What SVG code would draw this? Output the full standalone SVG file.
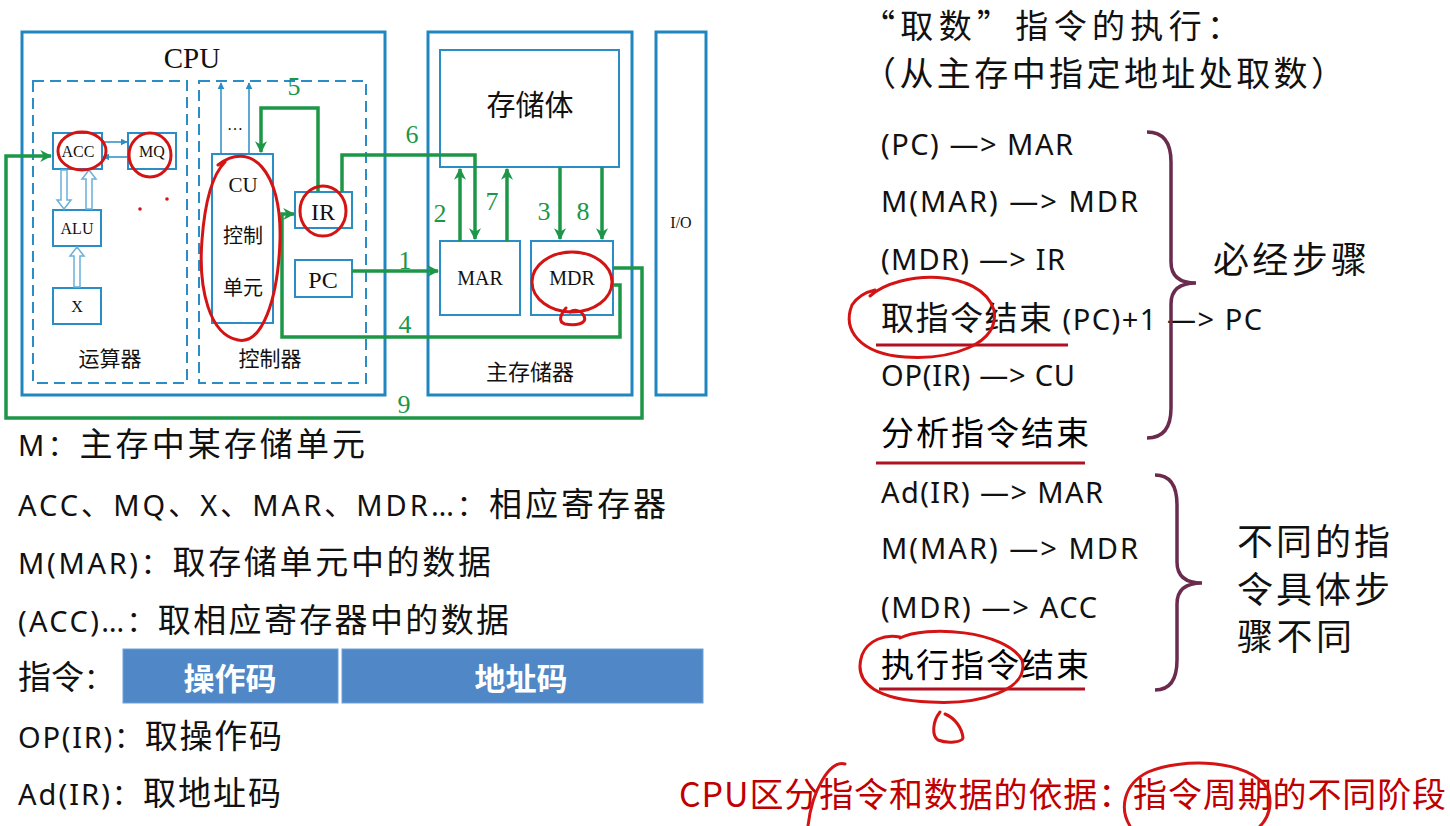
<svg xmlns="http://www.w3.org/2000/svg" width="1450" height="826" viewBox="0 0 1450 826">
<style>
.outer{fill:none;stroke:#1f86c0;stroke-width:3}
.dash{fill:none;stroke:#2a8dc5;stroke-width:2;stroke-dasharray:11 6}
.box{fill:#fff;stroke:#2a8dc5;stroke-width:2}
.thin{fill:none;stroke:#2a8dc5;stroke-width:1.5}
.hollow{fill:#fff;stroke:#6ab0dc;stroke-width:1.5}
.serif{font-family:"Liberation Serif","Noto Sans CJK SC",serif;fill:#111}
.cjk{font-family:"Noto Sans CJK SC",sans-serif;fill:#111}
.g{fill:none;stroke:#1c9647;stroke-width:3.5}
.num{font-family:"Liberation Serif",serif;fill:#1c9647;font-size:26px}
.list{font-family:"Noto Sans","Noto Sans CJK SC",sans-serif;font-size:29px;fill:#111}
.left{font-family:"Noto Sans","Noto Sans CJK SC",sans-serif;font-size:29px;fill:#111}
.big{font-family:"Noto Sans CJK SC",sans-serif;font-size:33px}
.red{fill:none;stroke:#d41414;stroke-width:3;stroke-linecap:round}
.brace{fill:none;stroke:#6b2b4e;stroke-width:3.5}
.uline{stroke:#b01020;stroke-width:3}
</style>
<defs>
<marker id="ga" viewBox="0 0 10 10" refX="9" refY="5" markerWidth="12" markerHeight="12" markerUnits="userSpaceOnUse" orient="auto"><path d="M0,0 L10,5 L0,10 L3,5 z" fill="#1c9647"/></marker>
<marker id="ba" viewBox="0 0 10 10" refX="9" refY="5" markerWidth="7" markerHeight="7" markerUnits="userSpaceOnUse" orient="auto"><path d="M0,0 L10,5 L0,10 z" fill="#2a8dc5"/></marker>
</defs>

<g id="cpu">
<rect class="outer" x="22" y="32" width="363" height="363"/>
<text class="serif" x="192" y="68" font-size="29" text-anchor="middle">CPU</text>
</g>
<g id="alu-unit">
<rect class="dash" x="33" y="81" width="154" height="302"/>
<text class="cjk" x="110" y="366" font-size="21" text-anchor="middle">运算器</text>
</g>
<g id="acc"><rect class="box" x="53" y="133" width="49" height="36"/><text class="serif" x="78" y="157" font-size="16" text-anchor="middle">ACC</text></g>
<g id="mq"><rect class="box" x="128" y="133" width="48" height="36"/><text class="serif" x="152" y="157" font-size="16" text-anchor="middle">MQ</text></g>
<g id="alu"><rect class="box" x="53" y="210" width="48" height="36"/><text class="serif" x="77" y="234" font-size="16" text-anchor="middle">ALU</text></g>
<g id="x"><rect class="box" x="53" y="288" width="48" height="36"/><text class="serif" x="77" y="312" font-size="16" text-anchor="middle">X</text></g>
<g id="alu-links">
<line class="thin" x1="102" y1="142" x2="127" y2="142" marker-end="url(#ba)"/>
<line class="thin" x1="128" y1="157" x2="103" y2="157" marker-end="url(#ba)"/>
<path class="hollow" d="M61,170 L61,200 L57,200 L64,209 L71,200 L67,200 L67,170 Z"/>
<path class="hollow" d="M86,209 L86,179 L82,179 L89,170 L96,179 L92,179 L92,209 Z"/>
<path class="hollow" d="M74,287 L74,256 L70,256 L77,247 L84,256 L80,256 L80,287 Z"/>
</g>

<g id="control-unit">
<rect class="dash" x="199" y="81" width="167" height="302"/>
<text class="cjk" x="270" y="366" font-size="21" text-anchor="middle">控制器</text>
</g>
<g id="cu">
<rect class="box" x="212" y="154" width="61" height="169"/>
<text class="serif" x="243" y="192" font-size="21" text-anchor="middle">CU</text>
<text class="cjk" x="243" y="243" font-size="20" text-anchor="middle">控制</text>
<text class="cjk" x="243" y="295" font-size="20" text-anchor="middle">单元</text>
<line class="thin" x1="221" y1="154" x2="221" y2="83" marker-end="url(#ba)"/>
<line class="thin" x1="249" y1="154" x2="249" y2="83" marker-end="url(#ba)"/>
<text class="serif" x="235" y="130" font-size="16" text-anchor="middle">…</text>
</g>
<g id="ir"><rect class="box" x="295" y="192" width="57" height="36"/><text class="serif" x="323" y="220" font-size="24" text-anchor="middle">IR</text></g>
<g id="pc"><rect class="box" x="295" y="260" width="57" height="37"/><text class="serif" x="323" y="288" font-size="24" text-anchor="middle">PC</text></g>

<g id="main-memory">
<rect class="outer" x="428" y="32" width="204" height="363"/>
<text class="cjk" x="530" y="380" font-size="22" text-anchor="middle">主存储器</text>
</g>
<g id="storage"><rect class="box" x="440" y="50" width="179" height="117"/><text class="cjk" x="530" y="116" font-size="29" text-anchor="middle">存储体</text></g>
<g id="mar"><rect class="box" x="440" y="241" width="80" height="74"/><text class="serif" x="480" y="285" font-size="20" text-anchor="middle">MAR</text></g>
<g id="mdr"><rect class="box" x="531" y="241" width="82" height="74"/><text class="serif" x="572" y="285" font-size="20" text-anchor="middle">MDR</text></g>
<g id="io"><rect class="outer" x="656" y="32" width="50" height="363"/><text class="serif" x="681" y="228" font-size="16" text-anchor="middle">I/O</text></g>

<g id="connectors">
<polyline class="g" points="352,271 438,271" marker-end="url(#ga)"/>
<polyline class="g" points="460,241 460,169" marker-end="url(#ga)"/>
<polyline class="g" points="560,167 560,239" marker-end="url(#ga)"/>
<polyline class="g" points="613,285 620,285 620,337 282,337 282,214 294,214" marker-end="url(#ga)"/>
<polyline class="g" points="318,192 318,108 261,108 261,152" marker-end="url(#ga)"/>
<polyline class="g" points="342,192 342,155 475,155 475,239" marker-end="url(#ga)"/>
<polyline class="g" points="507,241 507,169" marker-end="url(#ga)"/>
<polyline class="g" points="602,167 602,239" marker-end="url(#ga)"/>
<polyline class="g" points="613,268 642,268 642,418 6,418 6,156 51,156" marker-end="url(#ga)"/>
<text class="num" x="405" y="269" text-anchor="middle">1</text>
<text class="num" x="440" y="222" text-anchor="middle">2</text>
<text class="num" x="544" y="220" text-anchor="middle">3</text>
<text class="num" x="405" y="333" text-anchor="middle">4</text>
<text class="num" x="294" y="95" text-anchor="middle">5</text>
<text class="num" x="412" y="143" text-anchor="middle">6</text>
<text class="num" x="492" y="210" text-anchor="middle">7</text>
<text class="num" x="583" y="220" text-anchor="middle">8</text>
<text class="num" x="404" y="413" text-anchor="middle">9</text>
</g>

<g id="annotations-left">
<ellipse class="red" cx="82" cy="151" rx="24" ry="19"/>
<ellipse class="red" cx="150" cy="155" rx="21" ry="22"/>
<path class="red" d="M218,165 C250,140 282,170 280,240 C278,300 262,345 238,340 C210,335 198,290 202,240 C205,200 212,175 225,162"/>
<ellipse class="red" cx="323" cy="211" rx="23" ry="25"/>
<ellipse class="red" cx="572" cy="282" rx="40" ry="30"/>
<path class="red" d="M566,308 C560,315 558,322 565,324 C575,326 588,324 584,316 C581,310 574,309 570,312"/>
<circle cx="140" cy="209" r="1.8" fill="#d41414"/>
<circle cx="167" cy="199" r="1.8" fill="#d41414"/>
</g>

<g id="legend">
<text class="left" x="18" y="456" textLength="347">M：<tspan class="big">主存中某存储单元</tspan></text>
<text class="left" x="18" y="516" textLength="648">ACC、MQ、X、MAR、MDR…：<tspan class="big">相应寄存器</tspan></text>
<text class="left" x="18" y="574" textLength="473">M(MAR)：<tspan class="big">取存储单元中的数据</tspan></text>
<text class="left" x="18" y="632" textLength="491">(ACC)…：<tspan class="big">取相应寄存器中的数据</tspan></text>
<text class="left" x="18" y="689"><tspan class="big">指令</tspan>：</text>
<text class="left" x="18" y="748" textLength="264">OP(IR)：<tspan class="big">取操作码</tspan></text>
<text class="left" x="18" y="805" textLength="263">Ad(IR)：<tspan class="big">取地址码</tspan></text>
</g>
<g id="instruction-format">
<rect x="123" y="649" width="215" height="54" fill="#4f87c7" stroke="#6fa0d8" stroke-width="1"/>
<rect x="342" y="649" width="361" height="54" fill="#4f87c7" stroke="#6fa0d8" stroke-width="1"/>
<text x="230" y="690" font-family="Noto Sans CJK SC,sans-serif" font-weight="bold" font-size="31" fill="#fff" text-anchor="middle">操作码</text>
<text x="521" y="690" font-family="Noto Sans CJK SC,sans-serif" font-weight="bold" font-size="31" fill="#fff" text-anchor="middle">地址码</text>
</g>

<g id="title">
<text class="cjk" x="862" y="38" font-size="33" textLength="378">“取数”指令的执行：</text>
<text class="cjk" x="862" y="86" font-size="34" textLength="483">（从主存中指定地址处取数）</text>
</g>
<g id="fetch-steps">
<text class="list" x="881" y="155" textLength="192">(PC) —&gt; MAR</text>
<text class="list" x="881" y="212" textLength="257">M(MAR) —&gt; MDR</text>
<text class="list" x="881" y="270" textLength="184">(MDR) —&gt; IR</text>
<text class="list" x="881" y="330" textLength="381"><tspan class="big">取指令结束</tspan> (PC)+1 —&gt; PC</text>
<text class="list" x="881" y="386" textLength="194">OP(IR) —&gt; CU</text>
<text class="big" x="881" y="445" textLength="208">分析指令结束</text>
<line class="uline" x1="876" y1="345" x2="1068" y2="345"/>
<line class="uline" x1="876" y1="463" x2="1085" y2="463"/>
<path class="brace" d="M1147,132 Q1171,132 1171,162 L1171,262 Q1171,283 1196,283 Q1171,283 1171,304 L1171,408 Q1171,438 1147,438"/>
<text class="cjk" x="1213" y="273" font-size="36" textLength="154">必经步骤</text>
</g>
<g id="execute-steps">
<text class="list" x="881" y="503" textLength="222">Ad(IR) —&gt; MAR</text>
<text class="list" x="881" y="559" textLength="257">M(MAR) —&gt; MDR</text>
<text class="list" x="881" y="618" textLength="216">(MDR) —&gt; ACC</text>
<text class="big" x="881" y="677" textLength="208">执行指令结束</text>
<line class="uline" x1="879" y1="689" x2="1085" y2="689"/>
<path class="brace" d="M1155,475 Q1177,475 1177,505 L1177,562 Q1177,583 1202,583 Q1177,583 1177,604 L1177,660 Q1177,690 1155,690"/>
<text class="cjk" x="1237" y="555" font-size="36" textLength="153">不同的指</text>
<text class="cjk" x="1237" y="603" font-size="36" textLength="153">令具体步</text>
<text class="cjk" x="1237" y="650" font-size="36" textLength="115">骤不同</text>
</g>
<g id="annotations-right">
<path class="red" d="M870,296 C900,270 980,268 994,310 C1000,345 950,360 905,357 C860,354 842,330 852,305 C858,296 866,292 875,290"/>
<path class="red" d="M900,638 C925,625 1005,630 1022,660 C1030,690 980,705 930,702 C880,700 852,685 862,655 C868,640 885,634 900,637"/>
<path class="red" d="M940,712 C932,722 932,736 938,740 C948,744 962,742 963,738 C962,728 955,718 945,714"/>
<text x="679" y="807" font-family="Noto Sans CJK SC,sans-serif" font-size="34" fill="#c00000" textLength="767">CPU区分指令和数据的依据：指令周期的不同阶段</text>
<path class="red" d="M845,764 C830,760 812,790 808,826"/>
<path class="red" d="M1148,772 C1180,758 1250,758 1268,790 C1275,812 1262,826 1255,830 M1130,826 C1120,810 1122,785 1148,772"/>
</g>
</svg>
